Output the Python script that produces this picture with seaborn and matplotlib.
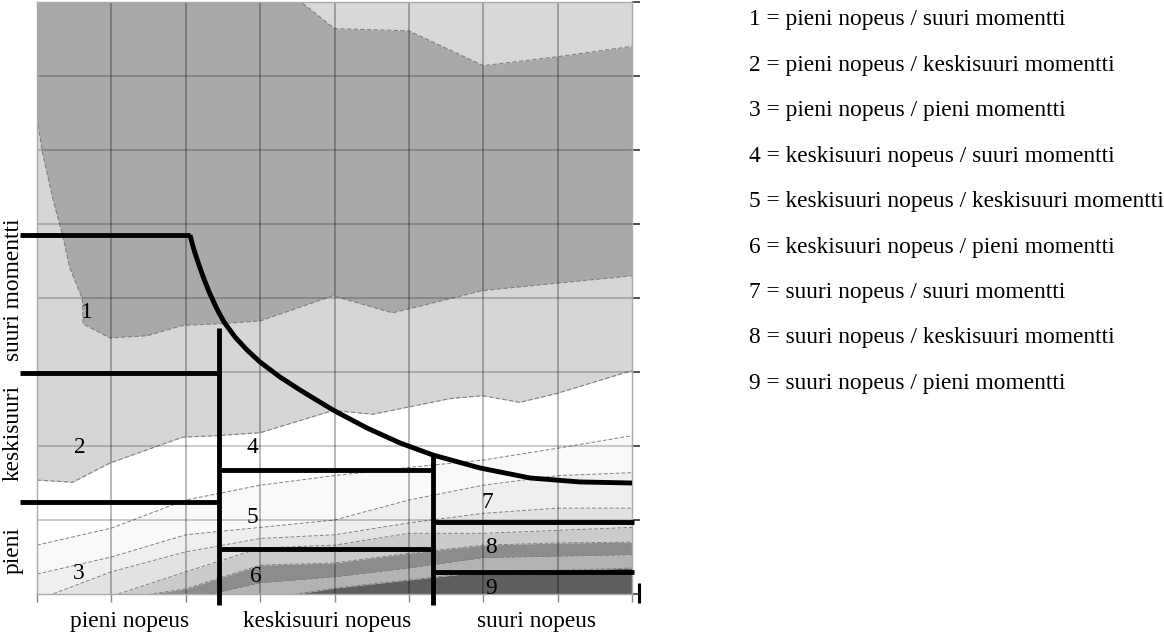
import numpy as np
import matplotlib
matplotlib.use("Agg")
import matplotlib.pyplot as plt
import seaborn as sns

# ---------------- data (grid units: speed 0..8, torque 0..8) -------------
speed_cols = [0, 1, 2, 3, 4, 5, 6, 7, 8]

# upper-right light area (lower edge)
top_light_edge = [8.44, 8.44, 8.44, 8.44, 7.64, 7.61, 7.14, 7.26, 7.40]

# dark grey area outline (left edge then lower edge)
dark_edge_x = [0.0, 0.07, 0.22, 0.34, 0.44, 0.61, 0.62, 0.98, 1.48, 1.96, 2.42, 3.0, 3.98, 4.78, 5.15, 5.99, 6.99, 8.0]
dark_edge_y = [6.43, 5.98, 5.31, 4.87, 4.41, 3.99, 3.65, 3.46, 3.49, 3.63, 3.65, 3.69, 4.03, 3.80, 3.89, 4.10, 4.20, 4.30]

# light grey band lower edge
light_edge_x = [0.0, 0.48, 0.98, 1.96, 2.42, 3.0, 3.98, 4.52, 5.55, 5.99, 6.49, 6.99, 8.0]
light_edge_y = [1.54, 1.51, 1.77, 2.12, 2.14, 2.18, 2.48, 2.43, 2.64, 2.68, 2.59, 2.71, 3.02]

# lower contour lines (at speed_cols)
contour_a = [0.66, 0.89, 1.27, 1.47, 1.60, 1.71, 1.81, 1.97, 2.14]
contour_b = [0.27, 0.50, 0.80, 0.90, 1.00, 1.27, 1.47, 1.60, 1.64]
contour_c = [-0.08, 0.30, 0.57, 0.75, 0.80, 0.96, 1.09, 1.16, 1.16]
contour_d = [-0.08, -0.03, 0.30, 0.62, 0.66, 0.82, 0.82, 0.86, 0.90]
contour_e = [-0.08, -0.08, 0.07, 0.39, 0.42, 0.55, 0.66, 0.69, 0.70]
contour_f = [-0.08, -0.08, -0.08, 0.15, 0.23, 0.35, 0.49, 0.51, 0.53]
contour_g = [-0.08, -0.08, -0.08, -0.08, 0.08, 0.19, 0.30, 0.32, 0.35]
band_colors = ["#f9f9f9", "#efefef", "#e1e3e1", "#cbcbcb", "#8c8c8c", "#b3b3b3", "#5e5e5e"]

# black limit curve
limit_curve_x = [2.057, 2.084, 2.124, 2.178, 2.245, 2.326, 2.420, 2.514, 2.662, 2.824, 2.998,
                 3.267, 3.536, 3.980, 4.437, 4.881, 5.324, 5.956, 6.628, 7.301, 8.0]
limit_curve_y = [4.851, 4.743, 4.608, 4.446, 4.257, 4.054, 3.851, 3.676, 3.473, 3.297, 3.135,
                 2.932, 2.757, 2.486, 2.243, 2.041, 1.878, 1.703, 1.568, 1.514, 1.50]

# black zone borders
speed_borders = [2.45, 5.32]
low_speed_torque_borders = [4.85, 2.99, 1.24]
mid_speed_torque_borders = [1.68, 0.61]
high_speed_torque_borders = [0.97, 0.30]

# region numbers
region_ids = ["1", "2", "3", "4", "5", "6", "7", "8", "9"]
region_x = [0.67, 0.58, 0.565, 2.90, 2.90, 2.94, 6.06, 6.10, 6.10]
region_y = [3.81, 1.98, 0.28, 1.98, 1.04, 0.23, 1.23, 0.63, 0.08]

speed_labels = ["pieni nopeus", "keskisuuri nopeus", "suuri nopeus"]
speed_label_x = [1.25, 3.90, 6.72]
torque_labels = ["suuri momentti", "keskisuuri", "pieni"]
torque_label_y = [4.11, 2.18, 0.59]

legend_lines = [
    "1 = pieni nopeus / suuri momentti",
    "2 = pieni nopeus / keskisuuri momentti",
    "3 = pieni nopeus / pieni momentti",
    "4 = keskisuuri nopeus / suuri momentti",
    "5 = keskisuuri nopeus / keskisuuri momentti",
    "6 = keskisuuri nopeus / pieni momentti",
    "7 = suuri nopeus / suuri momentti",
    "8 = suuri nopeus / keskisuuri momentti",
    "9 = suuri nopeus / pieni momentti",
]

# ---------------- drawing ----------------
sns.set_theme(style="white")
plt.rcParams["font.family"] = ["Liberation Serif", "DejaVu Serif"]
FS = 16.8

fig = plt.figure(figsize=(11.64, 6.33), dpi=100)
ax = fig.add_axes([37 / 1164, 39 / 633, 595 / 1164, 592 / 633])
ax.set_xlim(0, 8)
ax.set_ylim(0, 8)
ax.set_facecolor("white")

dash = (0, (4, 2))
cline = "#808080"

# light grey band over everything above light edge
ax.fill_between(light_edge_x, light_edge_y, 8.5, color="#d6d6d6", lw=0, zorder=1)
# dark area polygon
poly_x = dark_edge_x + [8.0, 0.0]
poly_y = dark_edge_y + [8.5, 8.5]
ax.fill(poly_x, poly_y, color="#a9a9a9", lw=0, zorder=1.1)
# top right light
ax.fill_between(speed_cols, top_light_edge, 8.5, color="#d8d8d8", lw=0, zorder=1.2)

# lower bands
contours = [contour_a, contour_b, contour_c, contour_d, contour_e, contour_f, contour_g]
lowers = contours[1:] + [[-0.5] * len(speed_cols)]
for upper, lower, col in zip(contours, lowers, band_colors):
    ax.fill_between(speed_cols, lower, upper, color=col, lw=0, zorder=1.3)

# dashed contour outlines
sns.lineplot(x=dark_edge_x, y=dark_edge_y, ax=ax, sort=False, estimator=None,
             color=cline, lw=0.8, linestyle=dash, zorder=1.5)
sns.lineplot(x=light_edge_x, y=light_edge_y, ax=ax, sort=False, estimator=None,
             color=cline, lw=0.8, linestyle=dash, zorder=1.5)
sns.lineplot(x=speed_cols, y=top_light_edge, ax=ax, sort=False, estimator=None,
             color=cline, lw=0.8, linestyle=dash, zorder=1.5)
for c in contours:
    sns.lineplot(x=speed_cols, y=c, ax=ax, sort=False, estimator=None,
                 color=cline, lw=0.7, linestyle=dash, zorder=1.5)

# grid
for gx in speed_cols[1:-1]:
    ax.axvline(gx, color="black", alpha=0.32, lw=1.2, zorder=2)
for gy in speed_cols[1:-1]:
    ax.axhline(gy, color="black", alpha=0.24, lw=1.2, zorder=2)

# black borders
blk = dict(color="black", lw=3.5, zorder=5, clip_on=False, sort=False, estimator=None)
x_left = -0.23
sns.lineplot(x=[x_left, limit_curve_x[0]], y=[low_speed_torque_borders[0]] * 2, ax=ax, **blk)
sns.lineplot(x=limit_curve_x, y=limit_curve_y, ax=ax, **blk)
for yb in low_speed_torque_borders[1:]:
    sns.lineplot(x=[x_left, speed_borders[0]], y=[yb, yb], ax=ax, **blk)
sns.lineplot(x=[speed_borders[0], speed_borders[0]], y=[3.60, -0.15], ax=ax, **blk)
for yb in mid_speed_torque_borders:
    sns.lineplot(x=[speed_borders[0], speed_borders[1]], y=[yb, yb], ax=ax, **blk)
sns.lineplot(x=[speed_borders[1], speed_borders[1]], y=[1.87, -0.15], ax=ax, **blk)
for yb in high_speed_torque_borders:
    sns.lineplot(x=[speed_borders[1], 8.03], y=[yb, yb], ax=ax, **blk)
sns.lineplot(x=[8.10, 8.10], y=[0.15, -0.12], ax=ax, color="black", lw=2.2,
             zorder=5, clip_on=False, sort=False, estimator=None)
for ln in ax.lines:
    ln.set_solid_capstyle("butt")
    ln.set_solid_joinstyle("round")

# region numbers
for t, x, y in zip(region_ids, region_x, region_y):
    ax.text(x, y, t, fontsize=FS, ha="center", va="center", color="black", zorder=6)

# axis texts
for t, x in zip(speed_labels, speed_label_x):
    ax.text(x, -0.37, t, fontsize=FS, ha="center", va="center", color="black", clip_on=False)
for t, y in zip(torque_labels, torque_label_y):
    ax.text(-0.32, y, t, fontsize=FS, ha="center", va="center", rotation=90,
            color="black", clip_on=False)

# ticks and spines
ax.set_xticks(speed_cols)
ax.set_yticks(speed_cols)
ax.set_xticklabels([])
ax.set_yticklabels([])
ax.yaxis.tick_right()
ax.tick_params(axis="x", bottom=True, direction="out", length=6, width=1, color="#888888")
ax.tick_params(axis="y", right=True, left=False, direction="out", length=6, width=1.2, color="#333333")
for s in ax.spines.values():
    s.set_color("#aaaaaa")
    s.set_linewidth(1)
ax.grid(False)
if ax.get_legend():
    ax.get_legend().remove()

# legend text
for i, t in enumerate(legend_lines):
    fig.text(749 / 1164, 1 - (20 + i * 45.4) / 633, t, fontsize=FS, ha="left", va="center", color="black")

fig.savefig("out.png", dpi=100)
